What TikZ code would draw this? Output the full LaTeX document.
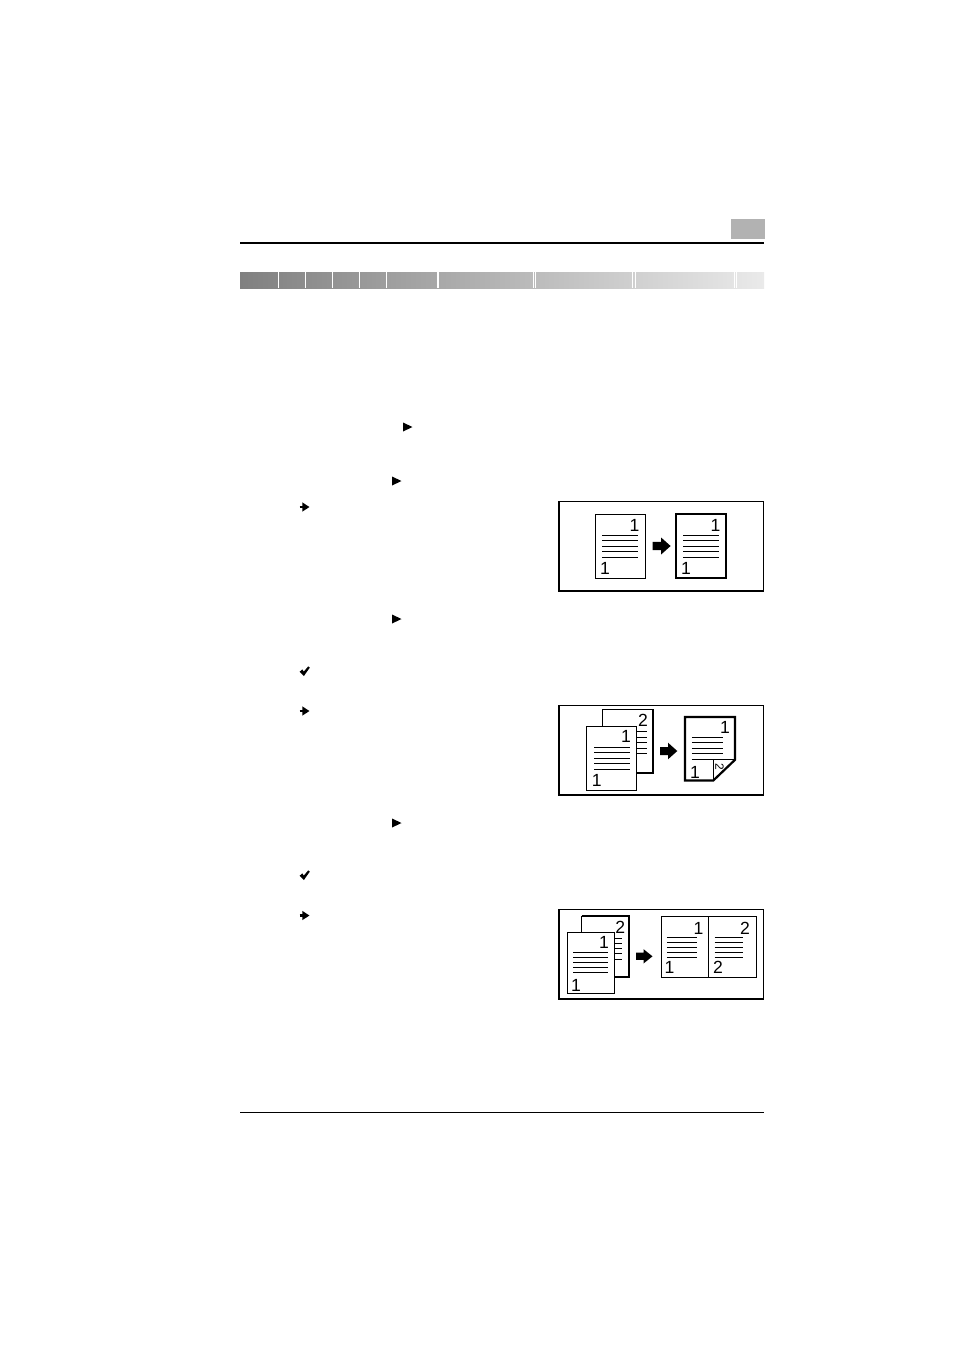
\documentclass[tikz,border=0pt]{standalone}
\usepackage{fontspec}
\setmainfont{Liberation Sans}
\usetikzlibrary{positioning, arrows.meta, calc}
\definecolor{barleft}{RGB}{128,128,128}
\definecolor{barright}{RGB}{234,234,234}

\begin{document}
\begin{tikzpicture}[
    x=0.5pt, y=-0.5pt,
    rule/.style={draw=black, line width=0.75pt},
    frame/.style={draw=black, line width=0.6pt},
    page/.style={rectangle, draw=black, fill=white, line width=0.5pt, minimum width=25pt, minimum height=32pt, inner sep=0pt, outer sep=0pt},
    smallpage/.style={page, minimum width=23.5pt, minimum height=30.5pt},
    heavy/.style={line width=1.1pt},
    txtline/.style={draw=black, line width=0.5pt},
    digit/.style={font=\fontsize{8.8}{9}\selectfont, inner sep=0pt},
    gap/.style={draw=white, line width=0.6pt},
    bullet/.style={line width=1.2pt, -{Triangle[length=3.6pt,width=4.4pt]}}
]
    \useasboundingbox[fill=white] (0,0) rectangle (954,1351);

    % header
    \fill[gray!60] (730.5,218.5) rectangle (764.5,239);
    \draw[rule] (240,243) -- (764,243);
    \shade[left color=barleft, right color=barright] (240,272) rectangle (764,288);
    \foreach \gx in {278.3,305.3,332.3,359.2,386.2,438,533.4,535.8,632.8,635.6,734.3,736.5}
        \draw[gap] (\gx,272) -- (\gx,288);

    % margin marks
    \fill (403,422.5) -- (412.5,427) -- (403,431.5) -- cycle;
    \fill (392,476.5) -- (401.5,481) -- (392,485.5) -- cycle;
    \fill (392,614.5) -- (401.5,619) -- (392,623.5) -- cycle;
    \fill (392,818.5) -- (401.5,823) -- (392,827.5) -- cycle;
    \draw[bullet] (299.5,507) -- (309.5,507);
    \draw[bullet] (299.5,711) -- (309.5,711);
    \draw[bullet] (299.5,915.5) -- (309.5,915.5);
    \fill (299.6,671.8) -- (302.3,669.4) -- (303.8,671.6) -- (308.2,666.4) -- (309.8,667.6) -- (303.9,676) -- cycle;
    \fill (299.6,875.8) -- (302.3,873.4) -- (303.8,875.6) -- (308.2,870.4) -- (309.8,871.6) -- (303.9,880) -- cycle;

    % 1 -> 1
    \draw[frame] (559,501.5) rectangle (763.5,591);
    \node[page, anchor=north west] (a1) at (595,514) {};
    \coordinate[right=3.8pt of a1] (ar1);
    \fill (ar1) -- ++(0,-4.2) -- ++(8.5,0) -- ++(0,-4.3) -- ++(9.5,8.5) -- ++(-9.5,8.5) -- ++(0,-4.3) -- ++(-8.5,0) -- cycle;
    \node[page, heavy, anchor=west] (a2) at ([xshift=11.7pt]ar1) {};
    \foreach \p in {a1,a2} {
        \foreach \i in {0,...,4}
            \draw[txtline] ([xshift=3.5pt, yshift=-10.7pt-2.75pt*\i]\p.north west) -- ([xshift=-3.5pt, yshift=-10.7pt-2.75pt*\i]\p.north east);
        \node[digit] (\p t) at ([xshift=-5.3pt, yshift=-5.6pt]\p.north east) {1};
        \node[digit] (\p b) at ([xshift=5pt, yshift=4.6pt]\p.south west) {1};
    }

    % 2 pages -> 1 duplex sheet
    \draw[frame] (559,705.5) rectangle (763.5,795);
    \node[page, anchor=north west] (b0) at (602.7,709.3) {};
    \draw[heavy] (b0.north east) -- (b0.south east) -- (b0.south west);
    \foreach \i in {0,...,4}
        \draw[txtline] ([xshift=3.5pt, yshift=-11.3pt-2.75pt*\i]b0.north west) -- ([xshift=-3pt, yshift=-11.3pt-2.75pt*\i]b0.north east);
    \node[digit] (b0t) at ([xshift=-4.8pt, yshift=-5.6pt]b0.north east) {2};
    \node[page, anchor=north west] (b1) at (586.7,726) {};
    \foreach \i in {0,...,4}
        \draw[txtline] ([xshift=3.7pt, yshift=-10.6pt-2.75pt*\i]b1.north west) -- ([xshift=-3.4pt, yshift=-10.6pt-2.75pt*\i]b1.north east);
    \node[digit] (b1t) at ([xshift=-5.3pt, yshift=-5pt]b1.north east) {1};
    \node[digit] (b1b) at ([xshift=5pt, yshift=4.6pt]b1.south west) {1};
    \coordinate (ar2) at (660,751);
    \fill (ar2) -- ++(0,-4) -- ++(8,0) -- ++(0,-4.3) -- ++(9.3,8.3) -- ++(-9.3,8.3) -- ++(0,-4.3) -- ++(-8,0) -- cycle;
    \node[page, draw=none, fill=none, minimum height=31.7pt, anchor=north west] (b2) at (685,717) {};
    \draw[heavy] (b2.north west) -- (b2.north east) -- ([yshift=10.3pt]b2.south east)
        -- ([xshift=-10.8pt]b2.south east) -- (b2.south west) -- cycle;
    \draw[txtline] ([xshift=-10.8pt]b2.south east) |- ([yshift=10.3pt]b2.south east);
    \foreach \i in {0,...,4}
        \draw[txtline] ([xshift=3.4pt, yshift=-10pt-2.75pt*\i]b2.north west) -- ([xshift=-5.8pt, yshift=-10pt-2.75pt*\i]b2.north east);
    \node[digit] (b2t) at ([xshift=-5pt, yshift=-5pt]b2.north east) {1};
    \node[digit] (b2b) at ([xshift=5pt, yshift=4pt]b2.south west) {1};
    \node[digit, font=\fontsize{6}{6}\selectfont, rotate=-90] (b2f) at (719.5,766.5) {2};

    % 2 pages -> 2 up
    \draw[frame] (559,909.5) rectangle (763.5,999);
    \node[smallpage, anchor=north west] (c0) at (581.7,916) {};
    \draw[heavy] (c0.north west) -- (c0.north east) -- (c0.south east) -- (c0.south west);
    \foreach \i in {0,...,4}
        \draw[txtline] ([xshift=3pt, yshift=-11.3pt-2.55pt*\i]c0.north west) -- ([xshift=-3.2pt, yshift=-11.3pt-2.55pt*\i]c0.north east);
    \node[digit] (c0t) at ([xshift=-4.2pt, yshift=-5.8pt]c0.north east) {2};
    \node[smallpage, anchor=north west] (c1) at (567.3,932.7) {};
    \foreach \i in {0,...,4}
        \draw[txtline] ([xshift=3pt, yshift=-10pt-2.5pt*\i]c1.north west) -- ([xshift=-3pt, yshift=-10pt-2.5pt*\i]c1.north east);
    \node[digit] (c1t) at ([xshift=-5.2pt, yshift=-4.7pt]c1.north east) {1};
    \node[digit] (c1b) at ([xshift=4.4pt, yshift=3.9pt]c1.south west) {1};
    \coordinate (ar3) at (636,956.3);
    \fill (ar3) -- ++(0,-3.6) -- ++(7.5,0) -- ++(0,-3.6) -- ++(9,7.2) -- ++(-9,7.2) -- ++(0,-3.6) -- ++(-7.5,0) -- cycle;
    \node[page, minimum width=47.5pt, minimum height=30.85pt, anchor=north west] (c2) at (661,916) {};
    \draw[txtline] (c2.north) -- (c2.south);
    \foreach \i in {0,...,4} {
        \draw[txtline] ([xshift=2.9pt, yshift=-10.85pt-2.5pt*\i]c2.north west) -- ([xshift=-5.8pt, yshift=-10.85pt-2.5pt*\i]c2.north);
        \draw[txtline] ([xshift=3pt, yshift=-10.85pt-2.5pt*\i]c2.north) -- ([xshift=-6.3pt, yshift=-10.85pt-2.5pt*\i]c2.north east);
    }
    \node[digit] (c2t) at ([xshift=-5pt, yshift=-6.3pt]c2.north) {1};
    \node[digit] (c2b) at ([xshift=4.2pt, yshift=5pt]c2.south west) {1};
    \node[digit] (c2u) at ([xshift=-5.5pt, yshift=-6.3pt]c2.north east) {2};
    \node[digit] (c2v) at ([xshift=4.7pt, yshift=5pt]c2.south) {2};

    % footer
    \draw[rule] (240,1112.6) -- (764,1112.6);
\end{tikzpicture}
\end{document}
